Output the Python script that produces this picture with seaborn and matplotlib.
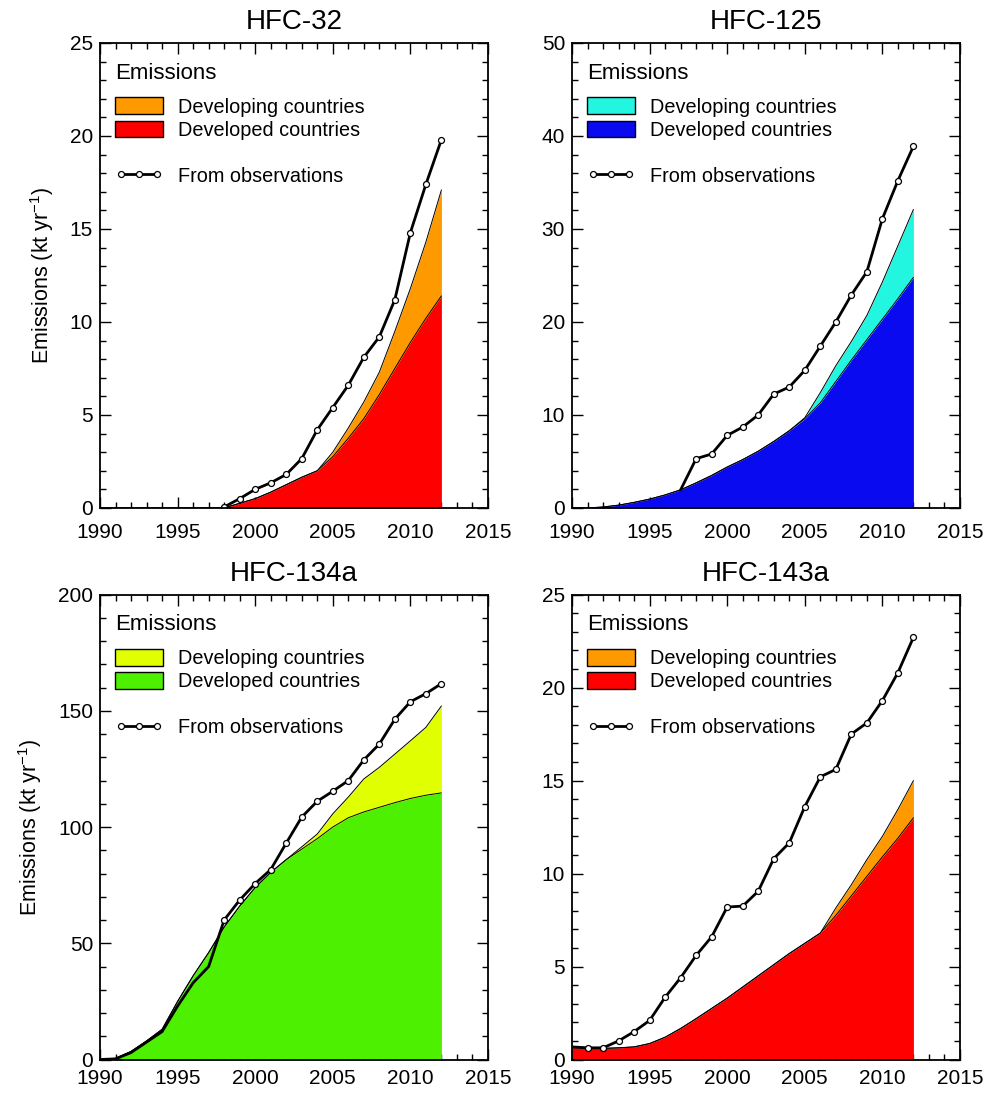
import numpy as np
import pandas as pd
import seaborn as sns
import matplotlib.pyplot as plt
from matplotlib.patches import Patch
from matplotlib.lines import Line2D
from matplotlib.ticker import MultipleLocator

# Data (kt/yr)
years = np.arange(1990, 2013)

dev32 = [0, 0, 0, 0, 0, 0, 0, 0, 0, 0.25, 0.5, 0.85, 1.25, 1.65, 2.0,
         2.75, 3.75, 4.8, 6.1, 7.5, 8.9, 10.2, 11.4]
tot32 = [0, 0, 0, 0, 0, 0, 0, 0, 0, 0.25, 0.5, 0.85, 1.25, 1.65, 2.0,
         3.0, 4.3, 5.7, 7.3, 9.5, 11.8, 14.3, 17.1]
obs32_years = np.arange(1998, 2013)
obs32 = [0.05, 0.5, 1.0, 1.35, 1.8, 2.65, 4.2, 5.4, 6.6, 8.1, 9.2, 11.2,
         14.8, 17.4, 19.8]

dev125 = [0, 0, 0.1, 0.3, 0.6, 0.95, 1.4, 1.95, 2.7, 3.5, 4.4, 5.2, 6.1,
          7.15, 8.3, 9.6, 11.3, 13.6, 15.9, 18.1, 20.3, 22.5, 24.8]
tot125 = [0, 0, 0.1, 0.3, 0.6, 0.95, 1.4, 1.95, 2.7, 3.5, 4.4, 5.2, 6.1,
          7.15, 8.3, 9.7, 12.4, 15.3, 17.9, 20.7, 24.3, 28.2, 32.1]
obs125_years = np.arange(1997, 2013)
obs125 = [1.95, 5.3, 5.8, 7.8, 8.7, 10.0, 12.25, 13.0, 14.8, 17.4, 20.0,
          22.9, 25.4, 31.1, 35.2, 38.9]

dev134 = [0, 0.5, 3.5, 8, 13, 25, 36, 46, 57, 66, 74, 80.5, 86, 90.5, 95,
          100, 104, 106.5, 108.5, 110.5, 112.3, 113.7, 114.7]
tot134 = [0, 0.5, 3.5, 8, 13, 25, 36, 46, 57, 66, 74, 80.5, 86, 91.5, 97,
          105.7, 112.9, 120.7, 125.7, 131.4, 137.1, 142.9, 152.1]
obs134_years = np.arange(1990, 2013)
obs134 = [0, 0.3, 3, 7.5, 12, 23, 33, 40, 60, 68.6, 75.7, 81.7, 93.1,
          104.3, 111.1, 115.4, 120, 128.9, 135.7, 146.4, 153.9, 157.4, 161.7]

dev143 = [0.65, 0.6, 0.6, 0.63, 0.68, 0.86, 1.2, 1.67, 2.2, 2.75, 3.3, 3.9,
          4.5, 5.1, 5.7, 6.25, 6.8, 7.75, 8.8, 9.85, 10.9, 11.9, 13.0]
tot143 = [0.65, 0.6, 0.6, 0.63, 0.68, 0.86, 1.2, 1.67, 2.2, 2.75, 3.3, 3.9,
          4.5, 5.1, 5.7, 6.25, 6.8, 8.15, 9.4, 10.75, 12.0, 13.45, 15.0]
obs143_years = np.arange(1990, 2013)
obs143 = [0.68, 0.63, 0.63, 1.0, 1.5, 2.1, 3.35, 4.4, 5.6, 6.6, 8.2, 8.25,
          9.05, 10.8, 11.65, 13.6, 15.2, 15.6, 17.5, 18.1, 19.3, 20.8, 22.7]

sns.set_theme(style='ticks')
plt.rcParams['font.family'] = ['Liberation Sans', 'DejaVu Sans']
plt.rcParams['mathtext.default'] = 'regular'
for k in ['text.color', 'axes.labelcolor', 'xtick.color', 'ytick.color']:
    plt.rcParams[k] = 'black'

fig = plt.figure(figsize=(10.03, 10.94), dpi=100)
w, h = 0.3868, 0.425
axes = [fig.add_axes([0.0997, 0.5357, w, h]), fig.add_axes([0.5703, 0.5357, w, h]),
        fig.add_axes([0.0997, 0.0315, w, h]), fig.add_axes([0.5703, 0.0315, w, h])]

panels = [
    ('HFC-32', dev32, tot32, obs32_years, obs32, 1998, '#FF0000', '#FF9900', 25, 5, 1),
    ('HFC-125', dev125, tot125, obs125_years, obs125, 1998, '#0A0AF0', '#22F5E0', 50, 10, 2),
    ('HFC-134a', dev134, tot134, obs134_years, obs134, 1998, '#4CF000', '#E0FF00', 200, 50, 10),
    ('HFC-143a', dev143, tot143, obs143_years, obs143, 1991, '#FF0000', '#FF9900', 25, 5, 1),
]

for i, (ax, p) in enumerate(zip(axes, panels)):
    title, dev, tot, oyears, obs, mark_from, c_dev, c_ing, ymax, ymaj, ymin = p
    df = pd.DataFrame({'year': years, 'dev': dev, 'tot': tot})
    odf = pd.DataFrame({'year': oyears, 'obs': obs})

    ax.fill_between(df['year'], 0, df['dev'], color=c_dev, lw=0)
    ax.fill_between(df['year'], df['dev'], df['tot'], color=c_ing, lw=0)
    sns.lineplot(data=df, x='year', y='dev', color='black', lw=0.7, ax=ax)
    sns.lineplot(data=df, x='year', y='tot', color='black', lw=0.7, ax=ax)
    sns.lineplot(data=odf, x='year', y='obs', color='black', lw=2, ax=ax)
    m = odf[odf['year'] >= mark_from]
    ax.plot(m['year'], m['obs'], 'o', mfc='white', mec='black', ms=4.3, mew=0.9)

    ax.set_xlim(1990, 2015)
    ax.set_ylim(0, ymax)
    ax.xaxis.set_major_locator(MultipleLocator(5))
    ax.xaxis.set_minor_locator(MultipleLocator(1))
    ax.yaxis.set_major_locator(MultipleLocator(ymaj))
    ax.yaxis.set_minor_locator(MultipleLocator(ymin))
    ax.tick_params(which='both', direction='in', top=True, right=True,
                   labelsize=15, width=1, color='black')
    ax.tick_params(which='major', length=8, pad=5)
    ax.tick_params(which='minor', length=4)
    ax.tick_params(axis='x', which='major', pad=11 if i < 2 else 7)
    for s in ax.spines.values():
        s.set_linewidth(1.3)
        s.set_color('black')
    ax.set_title(title, fontsize=20, pad=10)
    ax.set_xlabel('')
    if i % 2 == 0:
        ax.set_ylabel('Emissions (kt yr$^{-1}$)', fontsize=15.5, labelpad=10)
    else:
        ax.set_ylabel('')

    ax.text(0.039, 0.935, 'Emissions', transform=ax.transAxes, fontsize=16,
            va='center', ha='left')
    handles = [Patch(facecolor=c_ing, edgecolor='black', lw=1),
               Patch(facecolor=c_dev, edgecolor='black', lw=1),
               Line2D([], [], color='none'),
               Line2D([], [], color='black', lw=2, marker='o', mfc='white',
                      mec='black', ms=4.3, mew=0.9)]
    labels = ['Developing countries', 'Developed countries', ' ', 'From observations']
    ax.legend(handles, labels, loc='upper left', bbox_to_anchor=(0.018, 0.9),
              frameon=False, fontsize=14.3, handlelength=2.4, handleheight=0.9,
              handletextpad=0.8, labelspacing=0.2, numpoints=3, borderaxespad=0)

fig.savefig('out.png', dpi=100)
